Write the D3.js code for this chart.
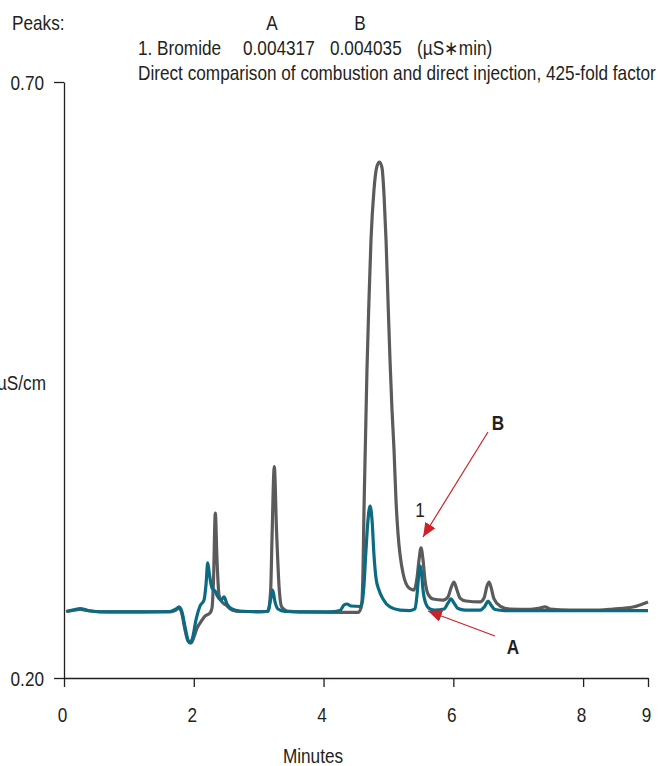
<!DOCTYPE html>
<html>
<head>
<meta charset="utf-8">
<script src="https://cdn.jsdelivr.net/npm/d3@7"></script>
<style>
    body { margin: 0; background: #fff; }
    svg text { font-family: "Liberation Sans", Arial, sans-serif; fill: #231f20; }
    .axis path, .axis line { stroke: #231f20; stroke-width: 1.3; }
    .trace { fill: none; stroke-width: 3.2; stroke-linejoin: round; }
</style>
</head>
<body>
<div class="chart"></div>
<script>
// trace A (direct injection) - minutes / uS/cm
var timeA = [0.046, 0.154, 0.247, 0.370, 0.555, 1.171, 1.634, 1.726, 1.772, 1.818, 1.865, 1.911, 1.942, 1.988, 2.034,
    2.096, 2.158, 2.188, 2.215, 2.242, 2.281, 2.327, 2.373, 2.420, 2.466, 2.512, 2.589, 2.712, 3.021, 3.144, 3.182,
    3.216, 3.252, 3.298, 3.406, 3.637, 4.099, 4.253, 4.315, 4.361, 4.423, 4.562, 4.593, 4.623, 4.654, 4.685, 4.716,
    4.747, 4.777, 4.808, 4.854, 4.916, 5.024, 5.178, 5.332, 5.409, 5.440, 5.471, 5.486, 5.509, 5.533, 5.579, 5.640,
    5.717, 5.856, 5.918, 5.964, 6.010, 6.072, 6.180, 6.411, 6.488, 6.534, 6.580, 6.642, 6.796, 7.644, 9.000];
var valueA = [0.2558, 0.2570, 0.2583, 0.2566, 0.2554, 0.2554, 0.2558, 0.2579, 0.2596, 0.2554, 0.2428, 0.2319, 0.2294, 0.2352, 0.2487,
    0.2604, 0.2654, 0.2780, 0.2965, 0.2864, 0.2755, 0.2730, 0.2680, 0.2654, 0.2680, 0.2621, 0.2579, 0.2562, 0.2554, 0.2562, 0.2654,
    0.2738, 0.2638, 0.2579, 0.2558, 0.2554, 0.2554, 0.2566, 0.2612, 0.2621, 0.2604, 0.2600, 0.2629, 0.2780, 0.3074, 0.3326, 0.3443,
    0.3326, 0.3032, 0.2839, 0.2738, 0.2663, 0.2596, 0.2570, 0.2566, 0.2579, 0.2696, 0.2889, 0.2940, 0.2889, 0.2738, 0.2621, 0.2579,
    0.2570, 0.2579, 0.2629, 0.2663, 0.2629, 0.2583, 0.2570, 0.2570, 0.2604, 0.2646, 0.2612, 0.2575, 0.2566, 0.2566, 0.2565];

// trace B (combustion)
var timeB = [0.031, 0.247, 0.401, 0.709, 1.634, 1.726, 1.772, 1.818, 1.865, 1.911, 1.957, 2.003, 2.050, 2.096, 2.173,
    2.250, 2.281, 2.304, 2.332, 2.358, 2.389, 2.435, 2.497, 2.589, 2.712, 3.144, 3.185, 3.205, 3.241, 3.275, 3.318,
    3.355, 3.437, 3.637, 4.253, 4.531, 4.577, 4.593, 4.608, 4.623, 4.646, 4.669, 4.700, 4.731, 4.777, 4.824, 4.862,
    4.901, 4.932, 4.963, 4.993, 5.024, 5.055, 5.086, 5.116, 5.147, 5.224, 5.317, 5.394, 5.440, 5.471, 5.502, 5.533,
    5.563, 5.609, 5.687, 5.841, 5.918, 5.964, 6.010, 6.056, 6.103, 6.195, 6.411, 6.473, 6.519, 6.550, 6.580, 6.627,
    6.719, 6.873, 7.181, 7.335, 7.413, 7.490, 7.798, 8.260, 8.461, 8.769, 9.000];
var valueB = [0.2558, 0.2575, 0.2562, 0.2554, 0.2554, 0.2570, 0.2587, 0.2537, 0.2403, 0.2310, 0.2294, 0.2344, 0.2419, 0.2461, 0.2520,
    0.2545, 0.2587, 0.2822, 0.3384, 0.2990, 0.2696, 0.2638, 0.2612, 0.2570, 0.2558, 0.2558, 0.2738, 0.3158, 0.3774, 0.3242, 0.2738,
    0.2596, 0.2562, 0.2554, 0.2550, 0.2550, 0.2587, 0.2654, 0.2906, 0.3409, 0.3997, 0.4584, 0.5171, 0.5674, 0.6094, 0.6295, 0.6329,
    0.6279, 0.6052, 0.5674, 0.5171, 0.4668, 0.4248, 0.3913, 0.3493, 0.3216, 0.2881, 0.2755, 0.2738, 0.2839, 0.2990, 0.3091, 0.2990,
    0.2822, 0.2705, 0.2663, 0.2654, 0.2680, 0.2755, 0.2805, 0.2738, 0.2671, 0.2646, 0.2638, 0.2671, 0.2772, 0.2805, 0.2763, 0.2663,
    0.2604, 0.2579, 0.2575, 0.2587, 0.2596, 0.2579, 0.2570, 0.2570, 0.2579, 0.2596, 0.2638];

var xTicks = [0, 2, 4, 6, 8, 9];
var yTicks = [0.20, 0.70];
var peakNames = ["1. Bromide"];
var areaA = ["0.004317"];
var areaB = ["0.004035"];

var width = 661, height = 766;
var margin = { left: 64, right: 13, top: 82, bottom: 88 };
var narrow = 0.86; // squeeze glyphs to look like a condensed face

var svg = d3.select(".chart").append("svg")
    .attr("width", width)
    .attr("height", height);

function label(x, y, str, anchor, weight) {
    return svg.append("text")
        .attr("transform", "translate(" + x + "," + y + ") scale(" + narrow + ",1)")
        .attr("text-anchor", anchor || "start")
        .style("font-size", "20px")
        .style("font-weight", weight || "normal")
        .text(str);
}

var xScale = d3.scaleLinear()
    .domain([0, 9])
    .range([margin.left, width - margin.right]);

var yScale = d3.scaleLinear()
    .domain([0.2, 0.7])
    .range([height - margin.bottom, margin.top]);

// axes
var xAxis = svg.append("g")
    .attr("class", "x axis")
    .attr("transform", "translate(0," + (height - margin.bottom) + ")")
    .call(d3.axisBottom(xScale).tickValues(xTicks).tickSize(9).tickSizeOuter(0).tickFormat(d3.format("d")));
xAxis.selectAll("text")
    .attr("y", 0).attr("dy", 0)
    .attr("transform", "translate(-2,44) scale(" + narrow + ",1)")
    .style("font-size", "20px");

var yAxis = svg.append("g")
    .attr("class", "y axis")
    .attr("transform", "translate(" + margin.left + ",0)")
    .call(d3.axisLeft(yScale).tickValues(yTicks).tickSize(10).tickSizeOuter(0).tickFormat(d3.format(".2f")));
yAxis.selectAll("text")
    .attr("x", 0).attr("dy", 0)
    .attr("transform", "translate(-20,7) scale(" + narrow + ",1)")
    .style("font-size", "20px");

label(313, 763, "Minutes", "middle");
label(46, 390, "µS/cm", "end");

// header
label(12, 30, "Peaks:");
label(272, 30, "A", "middle");
label(360, 30, "B", "middle");
label(138, 55, peakNames[0]);
label(243, 55, areaA[0]);
label(330, 55, areaB[0]);
label(417, 55, "(µS∗min)");
label(138, 80, "Direct comparison of combustion and direct injection, 425-fold factor");

// traces
var line = d3.line()
    .x(function (d) { return xScale(d.x); })
    .y(function (d) { return yScale(d.y); })
    .curve(d3.curveMonotoneX);

var datasetB = timeB.map(function (t, i) { return { x: t, y: valueB[i] }; });
var datasetA = timeA.map(function (t, i) { return { x: t, y: valueA[i] }; });

svg.append("path").datum(datasetB).attr("class", "trace").attr("stroke", "#5b5b5d").attr("d", line);
svg.append("path").datum(datasetA).attr("class", "trace").attr("stroke", "#0b6b83").attr("d", line);

// annotations
svg.append("defs").append("marker")
    .attr("id", "head")
    .attr("markerUnits", "userSpaceOnUse")
    .attr("viewBox", "0 0 14 12")
    .attr("refX", 14).attr("refY", 6)
    .attr("markerWidth", 14).attr("markerHeight", 12)
    .attr("orient", "auto")
    .append("path").attr("d", "M0,0L14,6L0,12Z").attr("fill", "#cc2229");

svg.append("line")
    .attr("x1", xScale(6.534)).attr("y1", yScale(0.4064))
    .attr("x2", xScale(5.533)).attr("y2", yScale(0.3183))
    .attr("stroke", "#cc2229").attr("stroke-width", 1.2)
    .attr("marker-end", "url(#head)");

svg.append("line")
    .attr("x1", xScale(6.642)).attr("y1", yScale(0.2352))
    .attr("x2", xScale(5.610)).attr("y2", yScale(0.2562))
    .attr("stroke", "#cc2229").attr("stroke-width", 1.2)
    .attr("marker-end", "url(#head)");

label(xScale(6.688), yScale(0.4139) + 7, "B", "middle", "bold");
label(xScale(6.92), yScale(0.226) + 7, "A", "middle", "bold");
label(xScale(5.486), yScale(0.341) + 7, "1", "middle");
</script>
</body>
</html>
